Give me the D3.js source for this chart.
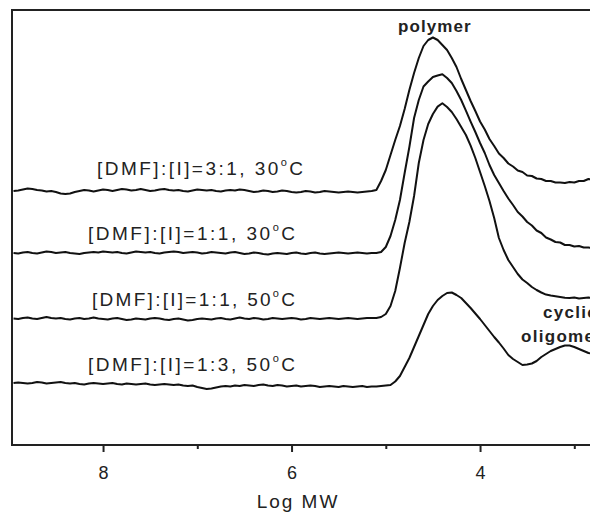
<!DOCTYPE html>
<html>
  <head>
    <meta charset="utf-8">
    <style>
      body { margin: 0; background: #fff; }
      svg { display: block; font-family: "Liberation Sans", Arial, sans-serif; }
    </style>
  </head>
  <body>
    <div id="chart"></div>
  </body>
  <script src="https://cdn.jsdelivr.net/npm/d3@7"></script>
  <script type="text/javascript">
    // GPC traces, log MW sampling grid (x axis reversed)
    var logMW = [
      8.95,8.9,8.85,8.8,8.75,8.7,8.65,8.6,8.55,8.5,
      8.45,8.4,8.35,8.3,8.25,8.2,8.15,8.1,8.05,8,
      7.95,7.9,7.85,7.8,7.75,7.7,7.65,7.6,7.55,7.5,
      7.45,7.4,7.35,7.3,7.25,7.2,7.15,7.1,7.05,7,
      6.95,6.9,6.85,6.8,6.75,6.7,6.65,6.6,6.55,6.5,
      6.45,6.4,6.35,6.3,6.25,6.2,6.15,6.1,6.05,6,
      5.95,5.9,5.85,5.8,5.75,5.7,5.65,5.6,5.55,5.5,
      5.45,5.4,5.35,5.3,5.25,5.2,5.15,
      5.1,5.05,5,4.95,4.9,4.85,4.8,4.75,4.7,4.65,
      4.6,4.55,4.5,4.45,4.4,4.35,4.3,4.25,4.2,4.15,
      4.1,4.05,4,3.95,3.9,3.85,3.8,3.75,3.7,3.65,
      3.6,3.55,3.5,3.45,3.4,3.35,3.3,3.25,3.2,3.15,
      3.1,3.05,3,2.95,2.9,2.85,2.8,2.75
    ];

    // detector signal (a.u.), [DMF]:[I]=3:1, 30 C
    var sig31_30 = [
      0,0.5,1.5,2.5,2,1,0.5,-0.5,0,-1,
      -2.5,-3,-2.5,-1,0,1,0.5,-0.5,0.5,1.5,
      1,0,1,2,1.5,0.5,1,2,1,0,
      0.5,1.5,2,1,0.5,1,0,-0.5,0.5,1.5,
      1,0.5,1,0,-0.5,0.5,1,0.5,1.5,1,
      0,-1,-0.5,0.5,0,-1,-0.5,0.5,0,-1,
      -1.5,-1,0,-0.5,-1.5,-1,0,-0.5,-1,-1.5,
      -1,-0.5,-1,-1.5,-1,-0.5,0,
      1,10,21,36,51,65,82,101,118,133,
      145,151,153.5,151,146,141,133,124,112,101,
      90,80,69.5,61.5,52,45,37.5,33,27.5,24.5,
      20.5,19,15.5,15,12.5,12,10,10,8.5,8.5,
      8,9,8.5,10,10,12,11.5,12.5
    ];

    // [DMF]:[I]=1:1, 30 C
    var sig11_30 = [
      0,-0.5,0.5,1,0,-0.5,0.5,1.5,1,0,
      0.5,1,0,-0.5,-1,0,0.5,1,0.5,1.5,
      1,0.5,1,0,-0.5,0.5,1.5,1,0.5,1,
      0,-0.5,0.5,1,1.5,1,0,0.5,1,0.5,
      -0.5,0,1,0.5,0,-0.5,0.5,1,0,-1,
      -0.5,0.5,0,-1,-1.5,-0.5,0,-0.5,-1,0,
      0.5,-0.5,-1,0,0.5,-0.5,-1,-0.5,0,0.5,
      0,-0.5,0,0.5,0,-0.5,0,
      0,1,6,17,33,53,80,106,135,153,
      166.5,171.5,176,177.5,178.8,175,170,162,153,142.4,
      131.4,121,110,100,88,78,70,62,54.5,48,
      41,36.5,31,27.5,22.5,20,15.5,13.5,11,10.5,
      8,8,6.5,7,5.5,5.5,4.5,5
    ];

    // [DMF]:[I]=1:1, 50 C
    var sig11_50 = [
      0.5,0,1,1.5,0.5,0,1,2,1,0.5,
      1,0,-0.5,0.5,1,0,0.5,1.5,0.5,0,
      -0.5,0.5,1,0,-1,-0.5,0.5,0,-0.5,0.5,
      1,0.5,-0.5,-1,0,0.5,-0.5,-1.5,-1,0,
      0.5,0,-0.5,0.5,1,0,-0.5,0.5,1.5,0.5,
      0,1,0.5,-0.5,0,1,0.5,0,0.5,1,
      0.5,-0.5,0,1,0.5,0,0.5,1,0.5,0,
      0.5,1,0.5,0,0.5,1,1,
      1,2,5,13,28,51,76,97,123,156,
      179,195,205,212.4,215.7,212,207,200,192,184,
      173.4,161,147,133,118,101,81,69,59,52,
      45,39.5,36,32,29,26.5,24.4,23.4,22.7,22,
      21.3,21,21.5,20.5,21,21.5,20.5,21
    ];

    // [DMF]:[I]=1:3, 50 C (polymer + cyclic oligomer)
    var sig13_50 = [
      1,1.5,1,0.5,1,2,1.5,0.5,1,1.5,
      2,1,0.5,1,0,-0.5,0.5,1,0.5,0,
      0.5,1,0,-0.5,0.5,0,-0.5,0,0.5,-0.5,
      -1,-0.5,0,-0.5,-1,-0.5,-1.5,-2,-1.5,-3,
      -4,-5,-4.5,-3.5,-2.5,-2,-2.5,-1.5,-2,-1,
      -1.5,-2,-1,-0.5,-1.5,-2,-1,-1.5,-2.5,-2,
      -1.5,-2.5,-2,-1.5,-2,-3,-2.5,-2,-2.5,-3,
      -2,-2.5,-3,-2.5,-2,-3,-2.5,
      -2.5,-2,-1.5,-1,2.5,8,17,26,37,48,
      59,70,78,84,88,91,91.5,89,86,81,
      76,70.5,65,59,53,47,41.5,35.5,29,25,
      22,19,19.5,20.5,23,27,30,33,35,37,
      38.5,38.5,37,35,33,31,30,29
    ];

    var seriesSignals = [sig31_30, sig11_30, sig11_50, sig13_50];
    var seriesOffsets = [254, 192, 126, 61];
    var seriesLabels = [
      ["[DMF]:[I]=3:1, 30", "C"],
      ["[DMF]:[I]=1:1, 30", "C"],
      ["[DMF]:[I]=1:1, 50", "C"],
      ["[DMF]:[I]=1:3, 50", "C"]
    ];
    var majorTicks = [8, 6, 4];
    var minorTicks = [7, 5, 3];

    var width = 590, height = 513;
    var plotLeft = 12, plotTop = 10, plotBottom = 445, plotRight = 620;

    var svg = d3.select("#chart").append("svg")
      .attr("width", width)
      .attr("height", height);

    var x = d3.scaleLinear().domain([8.966, 2.6]).range([plotLeft, 612]);
    var y = d3.scaleLinear().domain([0, 435]).range([plotBottom, plotTop]);

    // frame (right side runs off the picture)
    svg.append("path")
      .attr("d", "M" + plotRight + "," + plotTop + "H" + plotLeft + "V" + plotBottom + "H" + plotRight)
      .attr("fill", "none")
      .attr("stroke", "#222")
      .attr("stroke-width", 2);

    // axis
    var axis = svg.append("g")
      .attr("transform", "translate(0," + plotBottom + ")")
      .call(d3.axisBottom(x).tickValues(majorTicks).tickSize(7).tickPadding(14).tickFormat(d3.format("d")));
    axis.select(".domain").remove();
    axis.selectAll(".tick line").attr("stroke", "#222").attr("stroke-width", 2);
    axis.selectAll(".tick text")
      .attr("fill", "#222")
      .style("font-size", "18px")
      .style("font-family", "'Liberation Sans', Arial, sans-serif");

    var minor = svg.append("g")
      .attr("transform", "translate(0," + plotBottom + ")")
      .call(d3.axisBottom(x).tickValues(minorTicks).tickSize(4).tickFormat(""));
    minor.select(".domain").remove();
    minor.selectAll(".tick line").attr("stroke", "#222").attr("stroke-width", 2);

    svg.append("text")
      .attr("x", 298)
      .attr("y", 508)
      .attr("text-anchor", "middle")
      .style("font-size", "19px")
      .style("letter-spacing", "2px")
      .attr("fill", "#222")
      .text("Log MW");

    // traces
    var line = d3.line()
      .x(function(d) { return x(d[0]); })
      .y(function(d) { return y(d[1]); });

    seriesSignals.forEach(function(sig, i) {
      var pts = logMW.map(function(v, j) { return [v, sig[j] + seriesOffsets[i]]; });
      svg.append("path")
        .datum(pts)
        .attr("d", line)
        .attr("fill", "none")
        .attr("stroke", "#111")
        .attr("stroke-width", 2)
        .attr("stroke-linejoin", "round");
    });

    // trace labels
    var labelPos = [[97, 303, 175], [88, 295, 240], [92, 295, 306], [88, 295, 371]];
    seriesLabels.forEach(function(lab, i) {
      var t = svg.append("text")
        .attr("x", labelPos[i][0])
        .attr("y", labelPos[i][2])
        .attr("textLength", labelPos[i][1] - labelPos[i][0])
        .attr("lengthAdjust", "spacing")
        .attr("fill", "#222")
        .style("font-size", "19px");
      t.append("tspan").text(lab[0]);
      t.append("tspan").attr("dy", -9).style("font-size", "11px").text("o");
      t.append("tspan").attr("dy", 9).text(lab[1]);
    });

    // peak annotations (cut at the right edge, as in the source figure)
    var notes = [["polymer", 398, 32, 74], ["cyclic", 543, 318, 0], ["oligomer", 521, 342, 0]];
    notes.forEach(function(n) {
      var t = svg.append("text")
        .attr("x", n[1])
        .attr("y", n[2])
        .attr("fill", "#222")
        .style("font-size", "17px")
        .style("font-weight", "bold")
        .style("letter-spacing", "1.3px")
        .text(n[0]);
      if (n[3]) t.attr("textLength", n[3]).attr("lengthAdjust", "spacing");
    });
  </script>
</html>
